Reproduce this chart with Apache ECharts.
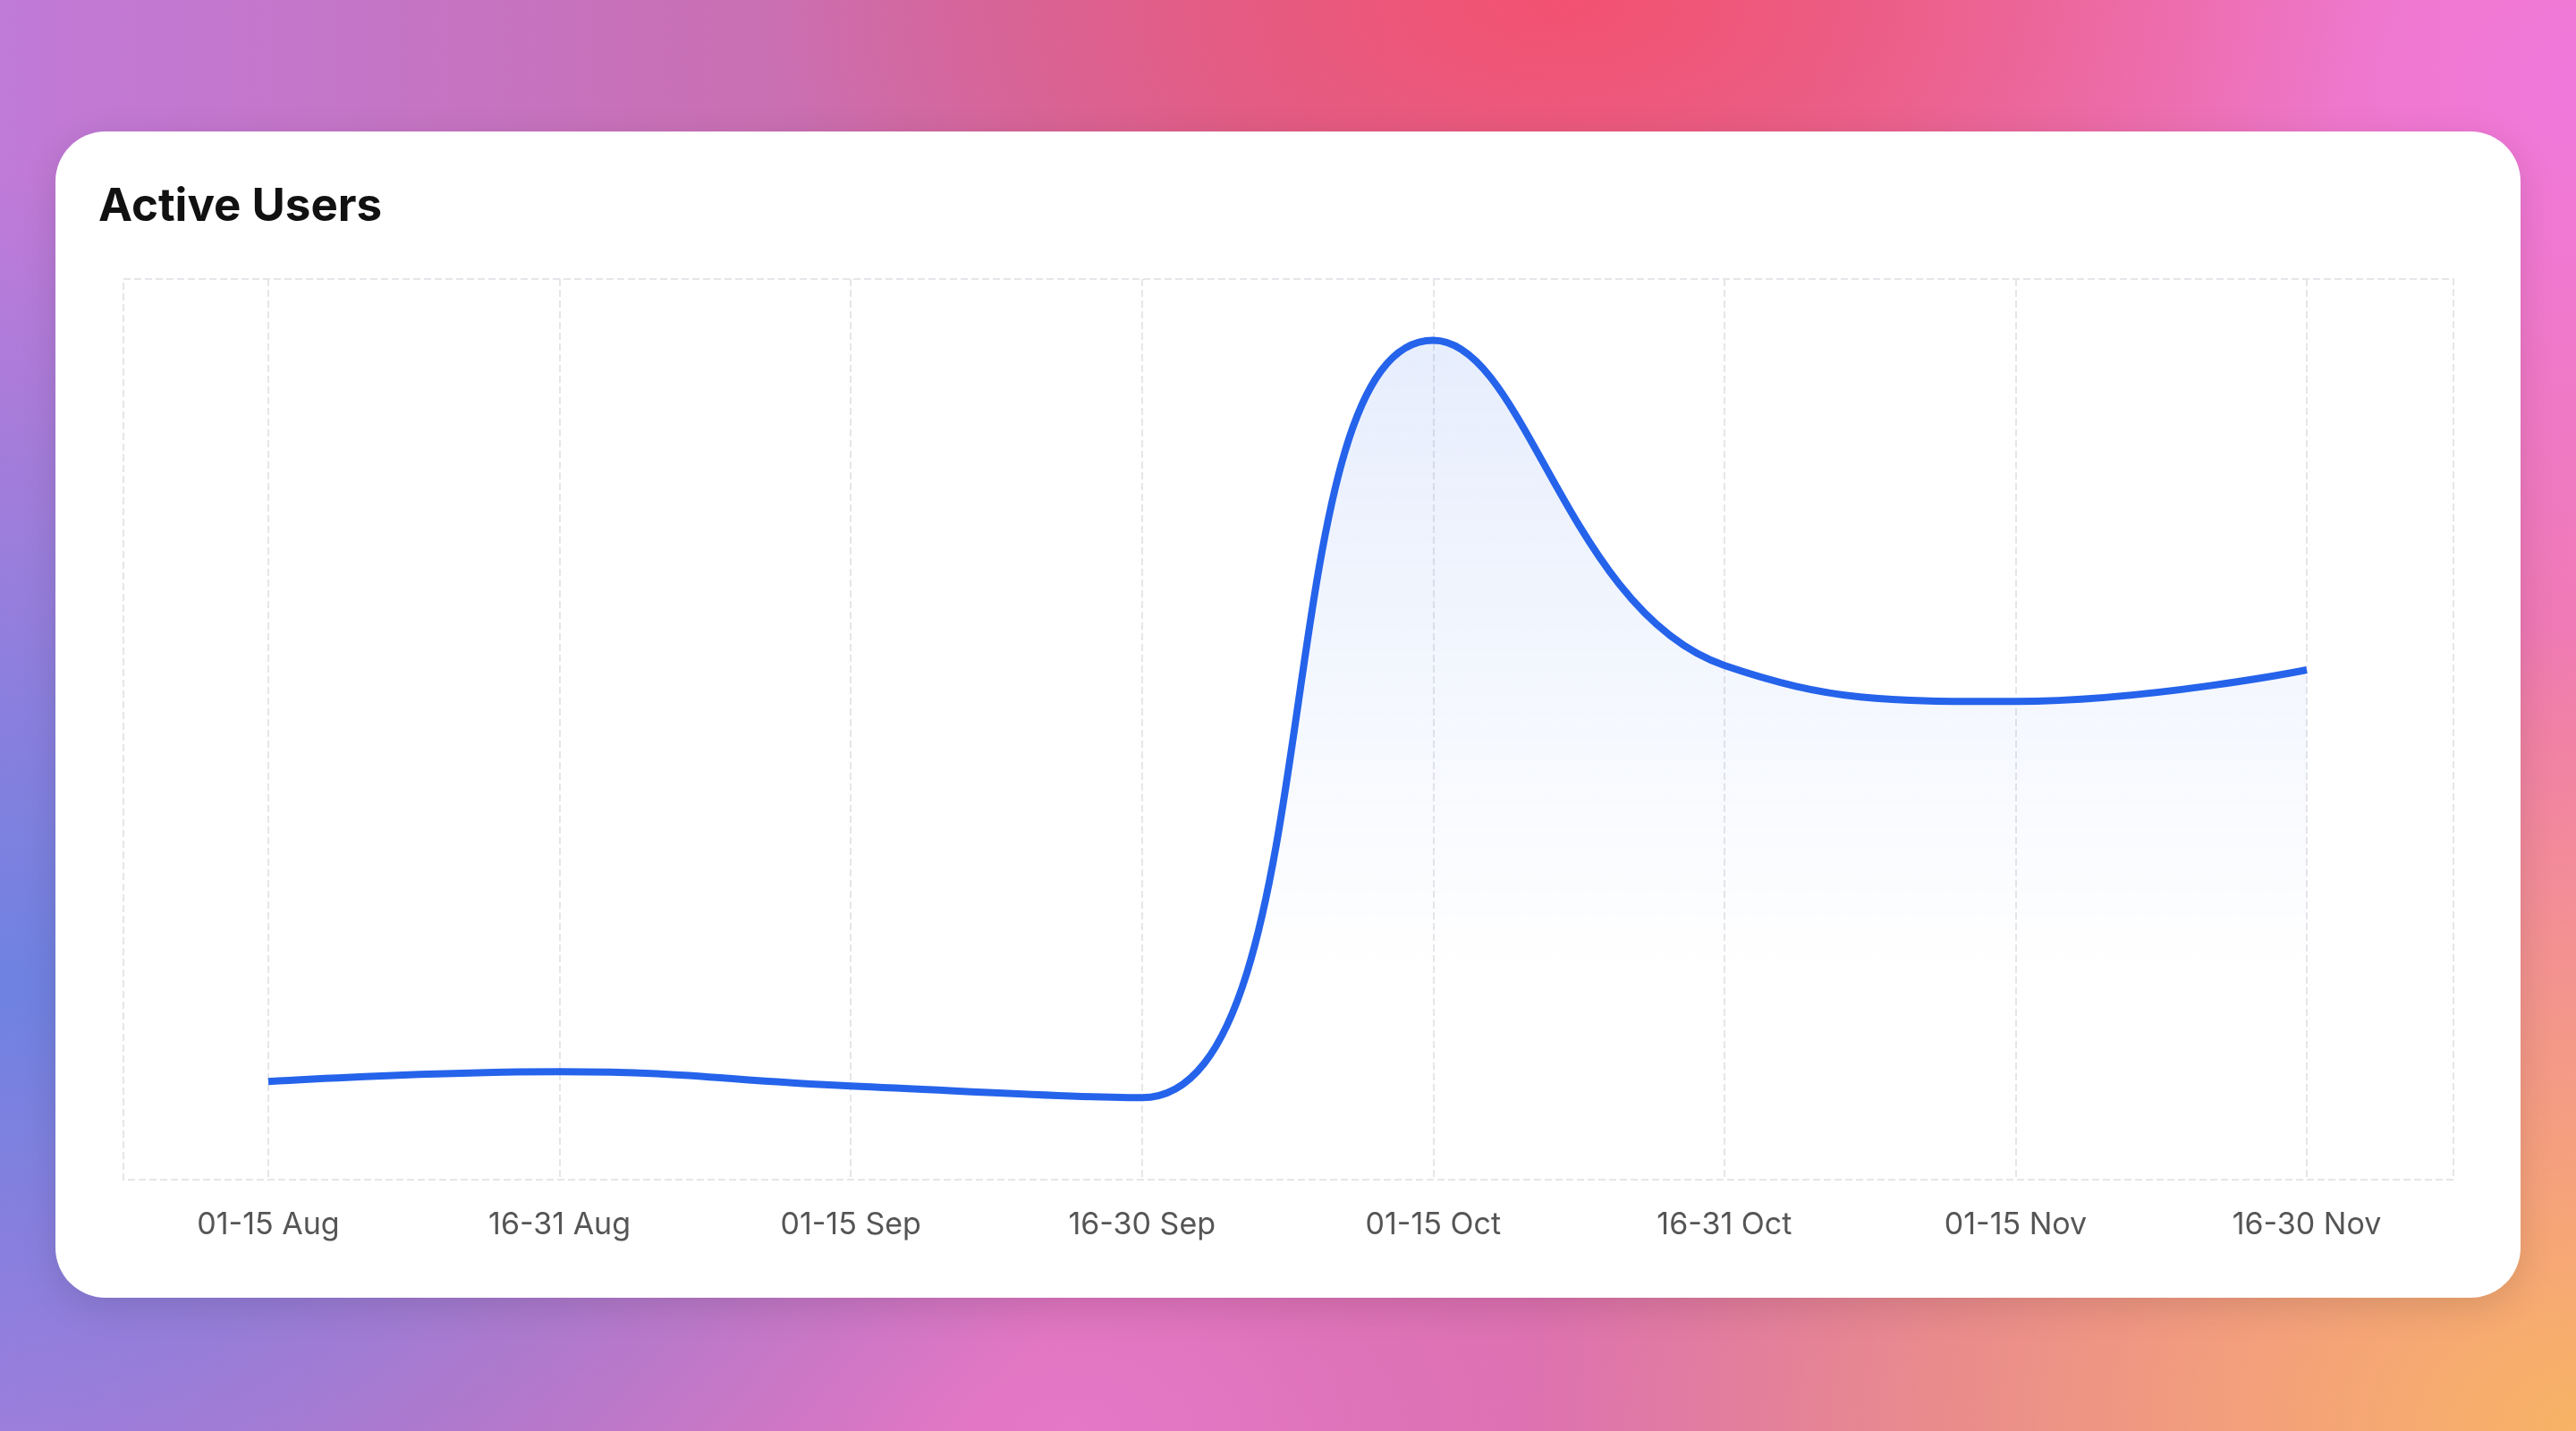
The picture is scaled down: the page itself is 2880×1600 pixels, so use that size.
<!DOCTYPE html>
<html><head><meta charset="utf-8">
<script src="https://cdn.jsdelivr.net/npm/echarts@6/dist/echarts.min.js"></script>
<style>
html,body{margin:0;padding:0;width:2880px;height:1600px;overflow:hidden;}
body{background:
 radial-gradient(ellipse 900px 500px at 1750px 0px, rgba(245,80,110,0.95), rgba(245,80,110,0) 100%),
 radial-gradient(ellipse 1200px 900px at 2900px 1600px, rgba(248,180,100,1), rgba(248,180,100,0) 100%),
 radial-gradient(ellipse 900px 700px at 2900px 100px, rgba(240,120,220,1), rgba(240,120,220,0) 100%),
 radial-gradient(ellipse 1300px 900px at 0px 1100px, rgba(110,130,225,1), rgba(110,130,225,0) 100%),
 radial-gradient(ellipse 1000px 600px at 1200px 1600px, rgba(230,120,200,1), rgba(230,120,200,0) 100%),
 linear-gradient(90deg,#c07ad8,#d0689a 50%,#f07ab0);
 font-family:Inter,"Noto Sans",sans-serif;}
#card{position:absolute;left:62px;top:147px;width:2756px;height:1304px;background:#fff;border-radius:56px;box-shadow:0 10px 40px rgba(0,0,0,0.12);}
#title{position:absolute;left:110px;top:198px;font-size:51px;font-weight:700;color:#111;}
#chart{position:absolute;left:0;top:0;width:2880px;height:1600px;}
</style></head><body>
<div id="card"></div>
<div id="title">Active Users</div>
<div id="chart"></div>
<script>
const categories=["01-15 Aug","16-31 Aug","01-15 Sep","16-30 Sep","01-15 Oct","16-31 Oct","01-15 Nov","16-30 Nov"];
const activeUsers=[10.9,12.0,10.4,9.1,93.2,57.1,53.1,56.6];
const chart=echarts.init(document.getElementById('chart'));
chart.setOption({
 animation:false,
 grid:[
  {left:300,right:301,top:312,bottom:281},
  {left:138,right:137,top:312,bottom:281,show:true,borderColor:'#e6e6ea',borderWidth:2,borderType:'dashed'}
 ],
 xAxis:[
  {type:'category',data:categories,boundaryGap:false,gridIndex:0,
   axisLine:{show:false},axisTick:{show:false},
   axisLabel:{color:'#555',fontSize:34,margin:34,fontFamily:'Inter'},
   splitLine:{show:true,interval:0,lineStyle:{color:'#e6e6ea',width:2,type:'dashed'}}},
  {type:'value',gridIndex:1,show:false,splitLine:{show:false}}
 ],
 yAxis:[
  {type:'value',min:0,max:100,show:false,gridIndex:0,splitLine:{show:false}},
  {type:'value',gridIndex:1,show:false,splitLine:{show:false}}
 ],
 series:[{type:'line',data:activeUsers,smooth:0.45,symbol:'none',
  lineStyle:{color:'#2563eb',width:8},
  areaStyle:{color:new echarts.graphic.LinearGradient(0,0,0,1,[{offset:0,color:'rgba(37,99,235,0.16)'},{offset:0.75,color:'rgba(37,99,235,0)'}])}}]
});
</script></body></html>
